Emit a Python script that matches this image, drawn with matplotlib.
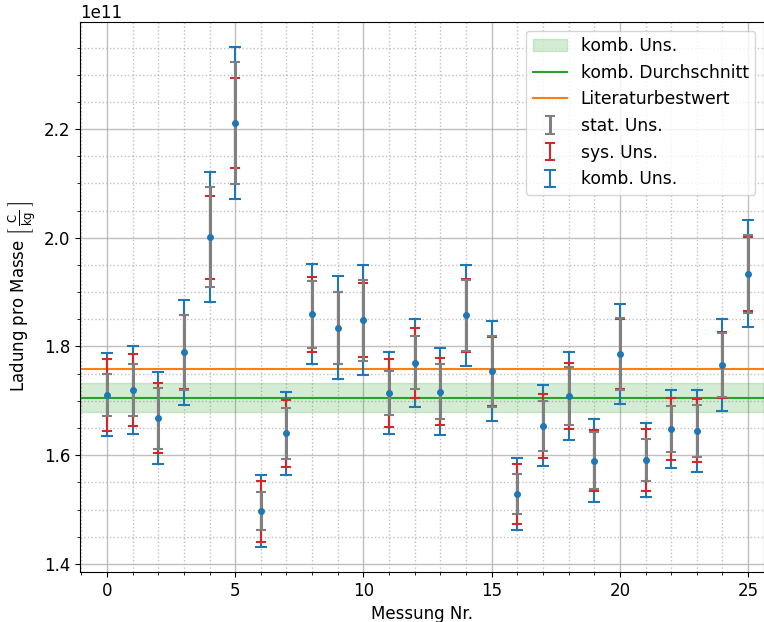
import numpy as np
import matplotlib
matplotlib.use("Agg")
import matplotlib.pyplot as plt
from matplotlib.ticker import MultipleLocator

# values in units of 1e11 C/kg
messung = list(range(26))
werte = [1.711, 1.720, 1.668, 1.789, 2.001, 2.211, 1.497, 1.640, 1.859, 1.834,
         1.848, 1.714, 1.770, 1.717, 1.857, 1.754, 1.529, 1.654, 1.709, 1.590,
         1.786, 1.591, 1.648, 1.645, 1.766, 1.934]
stat_uns = [0.039, 0.048, 0.056, 0.069, 0.092, 0.112, 0.035, 0.047, 0.061, 0.067,
            0.075, 0.041, 0.049, 0.050, 0.065, 0.066, 0.037, 0.046, 0.054, 0.053,
            0.067, 0.038, 0.043, 0.048, 0.059, 0.072]
sys_uns = [0.066, 0.066, 0.064, 0.068, 0.076, 0.083, 0.056, 0.061, 0.069, 0.067,
           0.068, 0.063, 0.064, 0.062, 0.067, 0.064, 0.055, 0.059, 0.061, 0.056,
           0.064, 0.057, 0.057, 0.058, 0.061, 0.068]
komb_mittel = 1.706
komb_mittel_uns = 0.026
literatur = 1.75882

scale = 1e11
x = np.array(messung)
y = np.array(werte) * scale
s_stat = np.array(stat_uns) * scale
s_sys = np.array(sys_uns) * scale
s_komb = np.sqrt(s_stat**2 + s_sys**2)

plt.rcParams['font.family'] = ['DejaVu Sans']
plt.rcParams['font.size'] = 12

fig = plt.figure(figsize=(7.64, 6.22), dpi=100)
ax = fig.add_axes([80/764, 1 - 572/622, (764 - 80)/764, (572 - 22)/622])

xlim = (-1.05, 25.62)
ax.fill_between(xlim, (komb_mittel - komb_mittel_uns) * scale,
                (komb_mittel + komb_mittel_uns) * scale,
                color='tab:green', alpha=0.2, label='komb. Uns.', zorder=1)
ax.axhline(komb_mittel * scale, color='tab:green', lw=1.5,
           label='komb. Durchschnitt', zorder=2)
ax.axhline(literatur * scale, color='tab:orange', lw=1.5,
           label='Literaturbestwert', zorder=2)

e_komb = ax.errorbar(x, y, yerr=s_komb, fmt='none', ecolor='tab:blue',
                     elinewidth=1.5, capsize=4, capthick=1.5, zorder=3)
e_sys = ax.errorbar(x, y, yerr=s_sys, fmt='none', ecolor='tab:red',
                    elinewidth=1.5, capsize=3.5, capthick=1.5, zorder=4)
e_stat = ax.errorbar(x, y, yerr=s_stat, fmt='none', ecolor='gray',
                     elinewidth=2.2, capsize=3.5, capthick=1.5, zorder=5)
ax.plot(x, y, 'o', color='tab:blue', ms=4, zorder=6)

handles, labels = ax.get_legend_handles_labels()
handles += [e_stat, e_sys, e_komb]
labels += ['stat. Uns.', 'sys. Uns.', 'komb. Uns.']
ax.legend(handles, labels, loc='upper right', fontsize=12.3)

ax.set_xlim(*xlim)
ax.set_ylim(1.385e11, 2.397e11)
ax.xaxis.set_major_locator(MultipleLocator(5))
ax.xaxis.set_minor_locator(MultipleLocator(1))
ax.yaxis.set_major_locator(MultipleLocator(0.2e11))
ax.yaxis.set_minor_locator(MultipleLocator(0.05e11))
ax.grid(which='major', color='#b0b0b0', lw=1.0, alpha=0.8)
ax.grid(which='minor', color='#b0b0b0', lw=1.0, ls=':', alpha=0.8)
ax.set_axisbelow(True)

ax.set_xlabel('Messung Nr.')
ax.set_ylabel(r'Ladung pro Masse $\left[\,\frac{\mathrm{C}}{\mathrm{kg}}\,\right]$')

fig.savefig('out.png', dpi=100)
